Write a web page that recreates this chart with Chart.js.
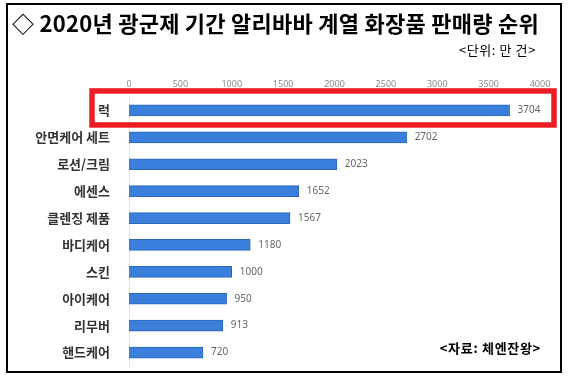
<!DOCTYPE html>
<html>
<head>
<meta charset="utf-8">
<script src="https://cdn.jsdelivr.net/npm/chart.js@4"></script>
<style>
  body { margin: 0; background: #fff; font-family: "Noto Sans CJK KR", "Noto Sans", sans-serif; }
  #wrap { position: relative; width: 570px; height: 377px; overflow: hidden; }
  #frame { position: absolute; left: 6px; top: 3px; width: 552px; height: 366px; border: 2px solid #000; }
  #titulo { position: absolute; left: 12px; top: 6px; font-size: 22px; font-weight: bold; color: #000; white-space: nowrap; letter-spacing: 0.25px; }
  #unidad { position: absolute; right: 34px; top: 40px; font-size: 13px; color: #000; letter-spacing: 0.6px; }
  #fuente { position: absolute; right: 29px; top: 338px; font-size: 13px; font-weight: bold; color: #000; letter-spacing: 0.7px; }
  canvas { position: absolute; left: 0; top: 0; }
</style>
</head>
<body>
<div id="wrap">
  <canvas id="myChart" width="570" height="377"></canvas>
  <div id="frame"></div>
  <div id="titulo">◇ 2020년 광군제 기간 알리바바 계열 화장품 판매량 순위</div>
  <div id="unidad">&lt;단위: 만 건&gt;</div>
  <div id="fuente">&lt;자료: 체엔잔왕&gt;</div>
</div>
<script>
const categorias = ['럭', '안면케어 세트', '로션/크림', '에센스', '클렌징 제품', '바디케어', '스킨', '아이케어', '리무버', '핸드케어'];
const ventas = [3704, 2702, 2023, 1652, 1567, 1180, 1000, 950, 913, 720];
const ticksX = [0, 500, 1000, 1500, 2000, 2500, 3000, 3500, 4000];

const ctx = document.getElementById('myChart');

// etiquetas de valor al final de cada barra
const etiquetasValor = {
    id: 'etiquetasValor',
    afterDatasetsDraw(chart) {
        const c = chart.ctx;
        const meta = chart.getDatasetMeta(0);
        c.save();
        c.font = '10px "Noto Sans", sans-serif';
        c.fillStyle = '#666';
        c.textBaseline = 'middle';
        meta.data.forEach((bar, i) => {
            c.fillText(ventas[i], bar.x + 8, bar.y);
        });
        c.restore();
    }
};

// recuadro rojo sobre la primera categoria
const recuadro = {
    id: 'recuadro',
    afterDraw(chart) {
        const c = chart.ctx;
        const yc = chart.scales.y.getPixelForValue(0);
        c.save();
        c.strokeStyle = '#ec1c24';
        c.lineWidth = 5.5;
        c.strokeRect(92, yc - 19.5, 462, 34);
        c.restore();
    }
};

const myChart = new Chart(ctx, {
    type: 'bar',
    data: {
        labels: categorias,
        datasets: [{
            data: ventas,
            backgroundColor: '#3a7fdb',
            borderColor: '#2c67b8',
            borderWidth: 1,
            barThickness: 11
        }]
    },
    options: {
        indexAxis: 'y',
        responsive: false,
        animation: false,
        layout: { padding: { left: 0, right: 30, top: 77, bottom: 11 } },
        plugins: { legend: { display: false }, tooltip: { enabled: false } },
        scales: {
            x: {
                position: 'top',
                min: 0,
                max: 4000,
                afterBuildTicks(axis) {
                    axis.ticks = ticksX.map(v => ({ value: v }));
                },
                afterFit(axis) { axis.height = 20; },
                grid: { display: false, drawTicks: false },
                border: { display: false },
                ticks: {
                    padding: 7,
                    color: '#8a8a8a',
                    callback: v => String(v),
                    font: { size: 9, family: '"Noto Sans", sans-serif' }
                }
            },
            y: {
                afterFit(axis) { axis.width = 129; },
                // marcas transparentes para separar las etiquetas del eje
                grid: { color: 'transparent', drawOnChartArea: false, drawTicks: true, tickLength: 16 },
                border: { display: true, color: '#e6e6e6' },
                ticks: {
                    padding: 3,
                    color: '#333',
                    font: { size: 13, weight: 'bold', family: '"Noto Sans CJK KR", sans-serif' }
                }
            }
        }
    },
    plugins: [etiquetasValor, recuadro]
});
</script>
</body>
</html>
